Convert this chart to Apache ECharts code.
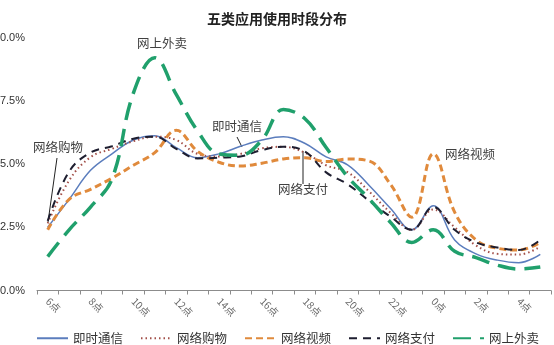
<!DOCTYPE html>
<html><head><meta charset="utf-8">
<script src="https://cdn.jsdelivr.net/npm/echarts@6/dist/echarts.min.js"></script>
<style>html,body{margin:0;padding:0;background:#fff}#c{width:554px;height:345px}</style>
</head><body><div id="c"></div>
<script>
const hours = ['6点','7点','8点','9点','10点','11点','12点','13点','14点','15点','16点','17点','18点','19点','20点','21点','22点','23点','0点','1点','2点','3点','4点','5点'];
const yTicks = [0, 2.5, 5, 7.5, 10];
const imData = [2.5, 3.6, 4.75, 5.4, 5.95, 6.12, 5.65, 5.25, 5.4, 5.7, 5.95, 6.08, 5.82, 5.28, 4.97, 4.16, 3.25, 2.4, 3.35, 2.0, 1.45, 1.2, 1.1, 1.43];
const shopData = [2.65, 4.35, 5.27, 5.6, 5.9, 6.08, 5.95, 5.4, 5.3, 5.4, 5.62, 5.68, 5.45, 4.95, 4.68, 3.92, 3.08, 2.4, 3.2, 2.5, 1.78, 1.45, 1.42, 1.73];
const videoData = [2.4, 3.6, 4.0, 4.44, 4.95, 5.45, 6.33, 5.5, 5.07, 4.92, 5.03, 5.2, 5.25, 5.1, 5.2, 5.12, 4.2, 2.9, 5.4, 3.1, 2.0, 1.67, 1.6, 1.9];
const payData = [2.75, 4.7, 5.45, 5.7, 6.0, 6.08, 5.6, 5.22, 5.25, 5.3, 5.55, 5.68, 5.5, 4.67, 4.2, 3.55, 2.92, 2.4, 3.3, 2.4, 1.9, 1.7, 1.6, 2.0];
const takeoutData = [1.34, 2.4, 3.3, 4.4, 7.8, 9.2, 7.75, 6.3, 5.4, 5.35, 5.95, 7.15, 6.8, 5.65, 4.5, 3.63, 2.7, 1.9, 2.4, 1.55, 1.3, 1.0, 0.85, 0.93];
const seriesNames = ['即时通信','网络购物','网络视频','网络支付','网上外卖'];

const cjk = '"Noto Sans CJK SC", "Noto Sans", sans-serif';
const chart = echarts.init(document.getElementById('c'));
const styles = [
  {color:'#5b7dbd', width:1.5, type:'solid'},
  {color:'#a24f48', width:2, type:[1.5,3]},
  {color:'#e08a3c', width:3, type:[7,4]},
  {color:'#1e1e30', width:2, type:[8,6]},
  {color:'#20a06c', width:3.5, type:[18,9]}
];
const datas = [imData, shopData, videoData, payData, takeoutData];
chart.setOption({
  animation:false,
  title:{text:'五类应用使用时段分布', left:272, top:7, textAlign:'center',
    textStyle:{fontFamily:cjk, fontSize:14, fontWeight:'bold', color:'#222'}},
  grid:{left:37, right:3, top:37.5, bottom:54.5, containLabel:false, outerBoundsMode:'none'},
  legend:{top:327, left:31, itemWidth:31, itemHeight:10, itemGap:17,
    itemStyle:{opacity:0},
    textStyle:{fontFamily:cjk, fontSize:12.5, color:'#333'},
    data:seriesNames},
  xAxis:{type:'category', data:hours, boundaryGap:true,
    axisLine:{lineStyle:{color:'#8c8c8c', width:1}},
    axisTick:{show:true, interval:0, length:4, lineStyle:{color:'#8c8c8c'}},
    axisLabel:{interval:1, rotate:-45, margin:9, fontSize:10, color:'#666', fontFamily:cjk, hideOverlap:false}},
  yAxis:{type:'value', min:yTicks[0], max:yTicks[yTicks.length-1], interval:2.5,
    splitLine:{show:false}, axisLine:{show:false}, axisTick:{show:false},
    axisLabel:{margin:12, fontSize:11, color:'#333', fontFamily:'"Liberation Sans", Arial, sans-serif',
      formatter:v=>v.toFixed(1)+'%'}},
  series: seriesNames.map((n,k)=>({
    name:n, type:'line', data:datas[k], smooth:0.4, symbol:'none',
    lineStyle:{color:styles[k].color, width:styles[k].width, type:styles[k].type},
    itemStyle:{color:styles[k].color}, z:2+k
  })),
  graphic:[
    {type:'text', left:137, top:37, style:{text:'网上外卖', font:'12.5px '+cjk, fill:'#404040'}},
    {type:'text', left:33, top:141, style:{text:'网络购物', font:'12.5px '+cjk, fill:'#404040'}},
    {type:'line', shape:{x1:57, y1:158, x2:48, y2:222}, style:{stroke:'#222', lineWidth:1}},
    {type:'text', left:212, top:120, style:{text:'即时通信', font:'12.5px '+cjk, fill:'#404040'}},
    {type:'line', shape:{x1:237, y1:137, x2:242, y2:147}, style:{stroke:'#222', lineWidth:1}},
    {type:'text', left:278, top:183, style:{text:'网络支付', font:'12.5px '+cjk, fill:'#404040'}},
    {type:'line', shape:{x1:303, y1:151, x2:303, y2:184}, style:{stroke:'#222', lineWidth:1}},
    {type:'text', left:445, top:148, style:{text:'网络视频', font:'12.5px '+cjk, fill:'#404040'}}
  ]
});
</script></body></html>
